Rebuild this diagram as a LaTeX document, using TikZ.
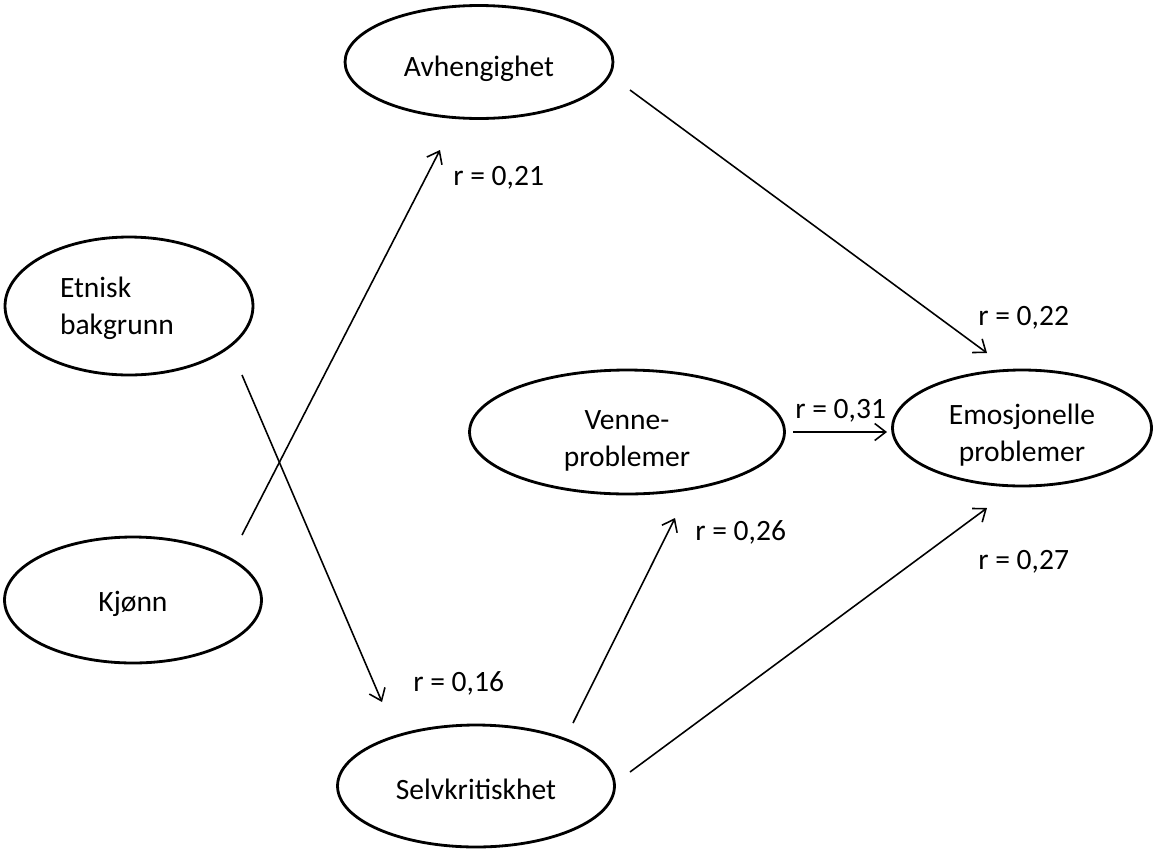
\documentclass[tikz,border=0pt]{standalone}
\usepackage{fontspec}
\setmainfont{Carlito}
\usepackage{tikz}
\usetikzlibrary{arrows.meta, shapes.geometric, calc}

\begin{document}
\begin{tikzpicture}[x=0.02cm, y=-0.02cm,
        var/.style={draw, ellipse, line width=1.6pt, inner sep=0pt, align=center},
        path/.style={line width=0.9pt, -{Straight Barb[length=2.2mm, width=3.4mm, line width=0.9pt]}},
        coef/.style={anchor=west, inner sep=0pt}]
        \fontsize{16.8pt}{21pt}\selectfont
        \useasboundingbox (0,0) rectangle (1153,849);

        % variables
        \node[var, minimum width=5.36cm, minimum height=2.26cm, text height=20.9pt, text depth=4.5pt] (Avh) at (479, 62) {Avhengighet};
        \node[var, minimum width=4.96cm, minimum height=2.76cm, text width=2.76cm, align=left, text height=12pt, text depth=21.6pt] (Etn) at (129, 306) {Etnisk\\ bakgrunn};
        \node[var, minimum width=5.14cm, minimum height=2.52cm, text height=17.5pt, text depth=4.5pt] (Kj) at (133, 600) {Kjønn};
        \node[var, minimum width=6.30cm, minimum height=2.48cm, text width=3.2cm, text height=12pt, text depth=14.8pt] (Ven) at (627, 432) {Venne-\\ problemer};
        \node[var, minimum width=5.18cm, minimum height=2.32cm, text width=3.2cm, text height=12pt, text depth=16pt] (Emo) at (1022, 428) {Emosjonelle\\ problemer};
        \node[var, minimum width=5.54cm, minimum height=2.44cm, text height=19.8pt, text depth=4.5pt] (Sel) at (476, 786) {Selvkritiskhet};

        % free ends of the paths
        \coordinate (EtnA) at (242, 375);
        \coordinate (SelB) at (382, 702);
        \coordinate (KjA) at (242, 535);
        \coordinate (AvhB) at (440, 150);
        \coordinate (AvhA) at (630, 90);
        \coordinate (EmoB) at (987, 353);
        \coordinate (VenA) at (793, 432);
        \coordinate (EmoC) at (887, 432);
        \coordinate (SelA) at (573, 723);
        \coordinate (VenB) at (675, 518);
        \coordinate (SelC) at (630, 772);
        \coordinate (EmoD) at (987, 508);

        \draw[path] (EtnA) -- (SelB);
        \draw[path] (KjA) -- (AvhB);
        \draw[path] (AvhA) -- (EmoB);
        \draw[path] (VenA) -- (EmoC);
        \draw[path] (SelA) -- (VenB);
        \draw[path] (SelC) -- (EmoD);

        % coefficients
        \node[coef] (r21) at (453, 178) {r = 0,21};
        \node[coef] (r22) at (978, 318) {r = 0,22};
        \node[coef] (r31) at (795, 411) {r = 0,31};
        \node[coef] (r26) at (695, 532) {r = 0,26};
        \node[coef] (r27) at (978, 562) {r = 0,27};
        \node[coef] (r16) at (413, 683) {r = 0,16};
\end{tikzpicture}
\end{document}
